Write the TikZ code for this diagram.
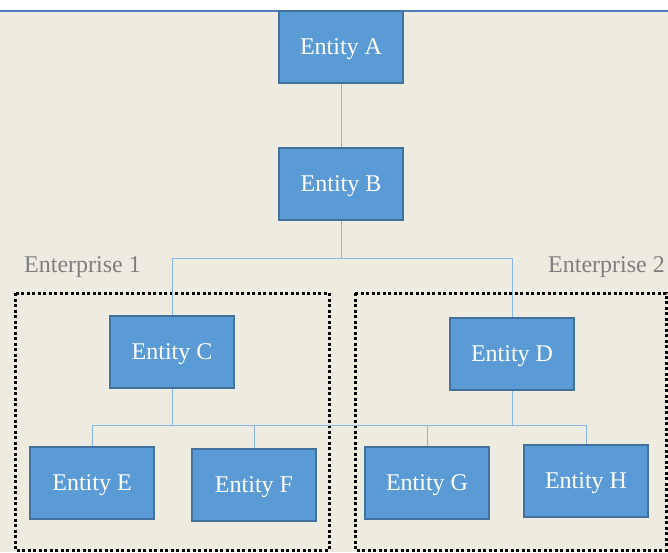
\documentclass[tikz,border=0pt]{standalone}
\usepackage{xcolor}
\usepackage{fontspec}
\setmainfont{Liberation Serif}
\definecolor{paper}{HTML}{EEEBE0}
\definecolor{entfill}{HTML}{5B9BD5}
\definecolor{entborder}{HTML}{41719C}
\definecolor{linkblue}{HTML}{8DB3E2}
\definecolor{topblue}{HTML}{4A7EBB}
\definecolor{labelgray}{HTML}{7F7F7F}
\begin{document}
\begin{tikzpicture}[
  x=1pt, y=-1pt,
  entity/.style={draw=entborder, fill=entfill, text=white, line width=1.2pt,
    minimum width=124pt, minimum height=72pt, inner sep=0pt, text depth=0pt,
    font=\fontsize{24}{28}\selectfont},
  enterprise/.style={text=labelgray, inner sep=0pt, font=\fontsize{24}{28}\selectfont},
  groupbox/.style={draw=black, line width=3pt, dash pattern=on 3pt off 2.5pt},
  link/.style={draw=linkblue, line width=1pt}
]
\useasboundingbox (0,0) rectangle (668,552);
\fill[paper] (0,11) rectangle (668,552);
\draw[topblue, line width=2pt] (0,11) -- (668,11);

% groups
\draw[groupbox] (15,293) rectangle (329,550);
\draw[groupbox] (355,293) rectangle (666,550);
\node[enterprise, anchor=west] (ent1) at (24,267) {Enterprise 1};
\node[enterprise, anchor=east] (ent2) at (665,267) {Enterprise 2};

% entities
\node[entity] (A) at (341,47) {Entity A};
\node[entity] (B) at (341,184) {Entity B};
\node[entity] (C) at (172,352) {Entity C};
\node[entity] (D) at (512,354) {Entity D};
\node[entity] (E) at (92,483) {Entity E};
\node[entity] (F) at (254,485) {Entity F};
\node[entity] (G) at (427,483) {Entity G};
\node[entity] (H) at (586,481) {Entity H};

% connectors
\coordinate (topbus) at (0,258);
\coordinate (lowbus) at (0,425);
\draw[link] (A) -- (B);
\draw[link] (B.south) -- (B.south |- topbus) -| (C.north);
\draw[link] (B.south |- topbus) -| (D.north);
\draw[link] (E.north |- lowbus) -- (H.north |- lowbus);
\draw[link] (C.south) -- (C.south |- lowbus);
\draw[link] (D.south) -- (D.south |- lowbus);
\foreach \n in {E,F,G,H}
  \draw[link] (\n.north |- lowbus) -- (\n.north);
\end{tikzpicture}
\end{document}
